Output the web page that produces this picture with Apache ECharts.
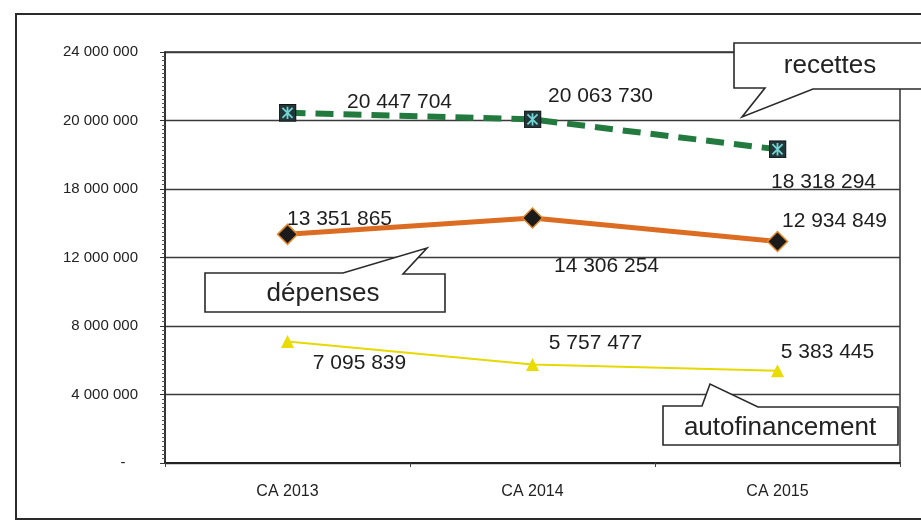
<!DOCTYPE html>
<html>
<head>
<meta charset="utf-8">
<script src="https://cdn.jsdelivr.net/npm/echarts@6/dist/echarts.min.js"></script>
<style>
  html, body { margin: 0; padding: 0; background: #fff; }
  #chart { width: 921px; height: 522px; }
</style>
</head>
<body>
<div id="chart"></div>
<script>
// Comptes administratifs 2013-2015
const categories = ['CA 2013', 'CA 2014', 'CA 2015'];
const recettes = [20447704, 20063730, 18318294];
const depenses = [13351865, 14306254, 12934849];
const autofinancement = [7095839, 5757477, 5383445];

// Y axis tick labels, keyed by tick value
const yTickValues = [0, 4000000, 8000000, 12000000, 16000000, 20000000, 24000000];
const yTickLabels = ['-   ', '4 000 000', '8 000 000', '12 000 000', '18 000 000', '20 000 000', '24 000 000'];

// Value label placement (pixel offsets from each point)
const recettesOffsets = [[112, -11], [68, -23], [46, 33]];
const depensesOffsets = [[52, -15], [74, 48], [57, -20]];
const autofinOffsets = [[72, 22], [63, -21], [50, -19]];

const FONT = '"Liberation Sans", Arial, sans-serif';

function fmt(v) {
  return String(v).replace(/\B(?=(\d{3})+(?!\d))/g, ' ');
}

function withLabels(values, offsets) {
  return values.map((v, i) => ({
    value: v,
    label: { offset: offsets[i] }
  }));
}

const starSquare = 'image://data:image/svg+xml;utf8,' + encodeURIComponent(
  '<svg xmlns="http://www.w3.org/2000/svg" width="16" height="16">' +
  '<rect x="0.5" y="0.5" width="15" height="15" fill="#22373a" stroke="#111" stroke-width="1"/>' +
  '<path d="M3.5 3.5L12.5 12.5M12.5 3.5L3.5 12.5M8 2.5V13.5" stroke="#72d4d4" stroke-width="1.6"/>' +
  '</svg>'
);

const valueLabel = {
  show: true,
  position: 'inside',
  color: '#1e1e1e',
  fontFamily: FONT,
  fontSize: 21,
  formatter: p => fmt(p.value)
};

function callout(points, text, cx, cy) {
  return [
    {
      type: 'polygon',
      shape: { points: points },
      style: { fill: '#fff', stroke: '#2a2a2a', lineWidth: 1.6 },
      z: 100
    },
    {
      type: 'text',
      x: cx, y: cy,
      style: {
        text: text, fill: '#222', font: '26px ' + FONT,
        textAlign: 'center', textVerticalAlign: 'middle'
      },
      z: 101
    }
  ];
}

const chart = echarts.init(document.getElementById('chart'));

chart.setOption({
  backgroundColor: '#fff',
  animation: false,
  grid: {
    left: 165, right: 21, top: 52, bottom: 59,
    show: true, borderColor: '#333', borderWidth: 1.5
  },
  xAxis: {
    type: 'category',
    data: categories,
    boundaryGap: true,
    axisLine: { lineStyle: { color: '#222', width: 2 } },
    axisTick: { show: true, length: 4, inside: false, lineStyle: { color: '#444' } },
    axisLabel: { color: '#222', fontFamily: FONT, fontSize: 16, margin: 21 },
    splitLine: { show: false }
  },
  yAxis: {
    type: 'value',
    min: 0, max: 24000000, interval: 4000000,
    axisLine: { show: true, lineStyle: { color: '#222', width: 1.5 } },
    axisTick: { show: true, length: 5, lineStyle: { color: '#333' } },
    minorTick: { show: true, splitNumber: 16, length: 3, lineStyle: { color: '#555' } },
    axisLabel: {
      color: '#222', fontFamily: FONT, fontSize: 15, margin: 27,
      formatter: v => {
        const i = yTickValues.indexOf(v);
        return i >= 0 ? yTickLabels[i] : '';
      }
    },
    splitLine: { show: true, lineStyle: { color: '#3a3a3a', width: 1.4 } }
  },
  series: [
    {
      name: 'autofinancement',
      type: 'line',
      data: withLabels(autofinancement, autofinOffsets),
      symbol: 'triangle',
      symbolSize: 13,
      lineStyle: { color: '#e6d900', width: 2 },
      itemStyle: { color: '#e8dc00' },
      label: valueLabel,
      z: 3
    },
    {
      name: 'dépenses',
      type: 'line',
      data: withLabels(depenses, depensesOffsets),
      symbol: 'diamond',
      symbolSize: [20, 20],
      lineStyle: { color: '#db6c22', width: 5 },
      itemStyle: { color: '#1b1b1b', borderColor: '#e38a2a', borderWidth: 1.5 },
      label: valueLabel,
      z: 4
    },
    {
      name: 'recettes',
      type: 'line',
      data: withLabels(recettes, recettesOffsets),
      symbol: starSquare,
      symbolSize: 18,
      lineStyle: { color: '#227a3e', width: 6, type: [18, 10] },
      itemStyle: { color: '#227a3e' },
      label: valueLabel,
      z: 5
    }
  ],
  graphic: [
    // outer frame
    {
      type: 'rect',
      shape: { x: 16, y: 14, width: 930, height: 505 },
      style: { fill: 'none', stroke: '#2a2a2a', lineWidth: 2 },
      z: 90
    },
    ...callout([[734, 43], [930, 43], [930, 89], [813, 89], [742, 117], [765, 88], [734, 88]],
      'recettes', 830, 66),
    ...callout([[205, 273], [343, 273], [427, 248], [403, 274], [445, 274], [445, 312], [205, 312]],
      'dépenses', 323, 294),
    ...callout([[663, 406], [702, 406], [710, 384], [758, 407], [898, 407], [898, 445], [663, 445]],
      'autofinancement', 780, 428)
  ]
});
</script>
</body>
</html>
